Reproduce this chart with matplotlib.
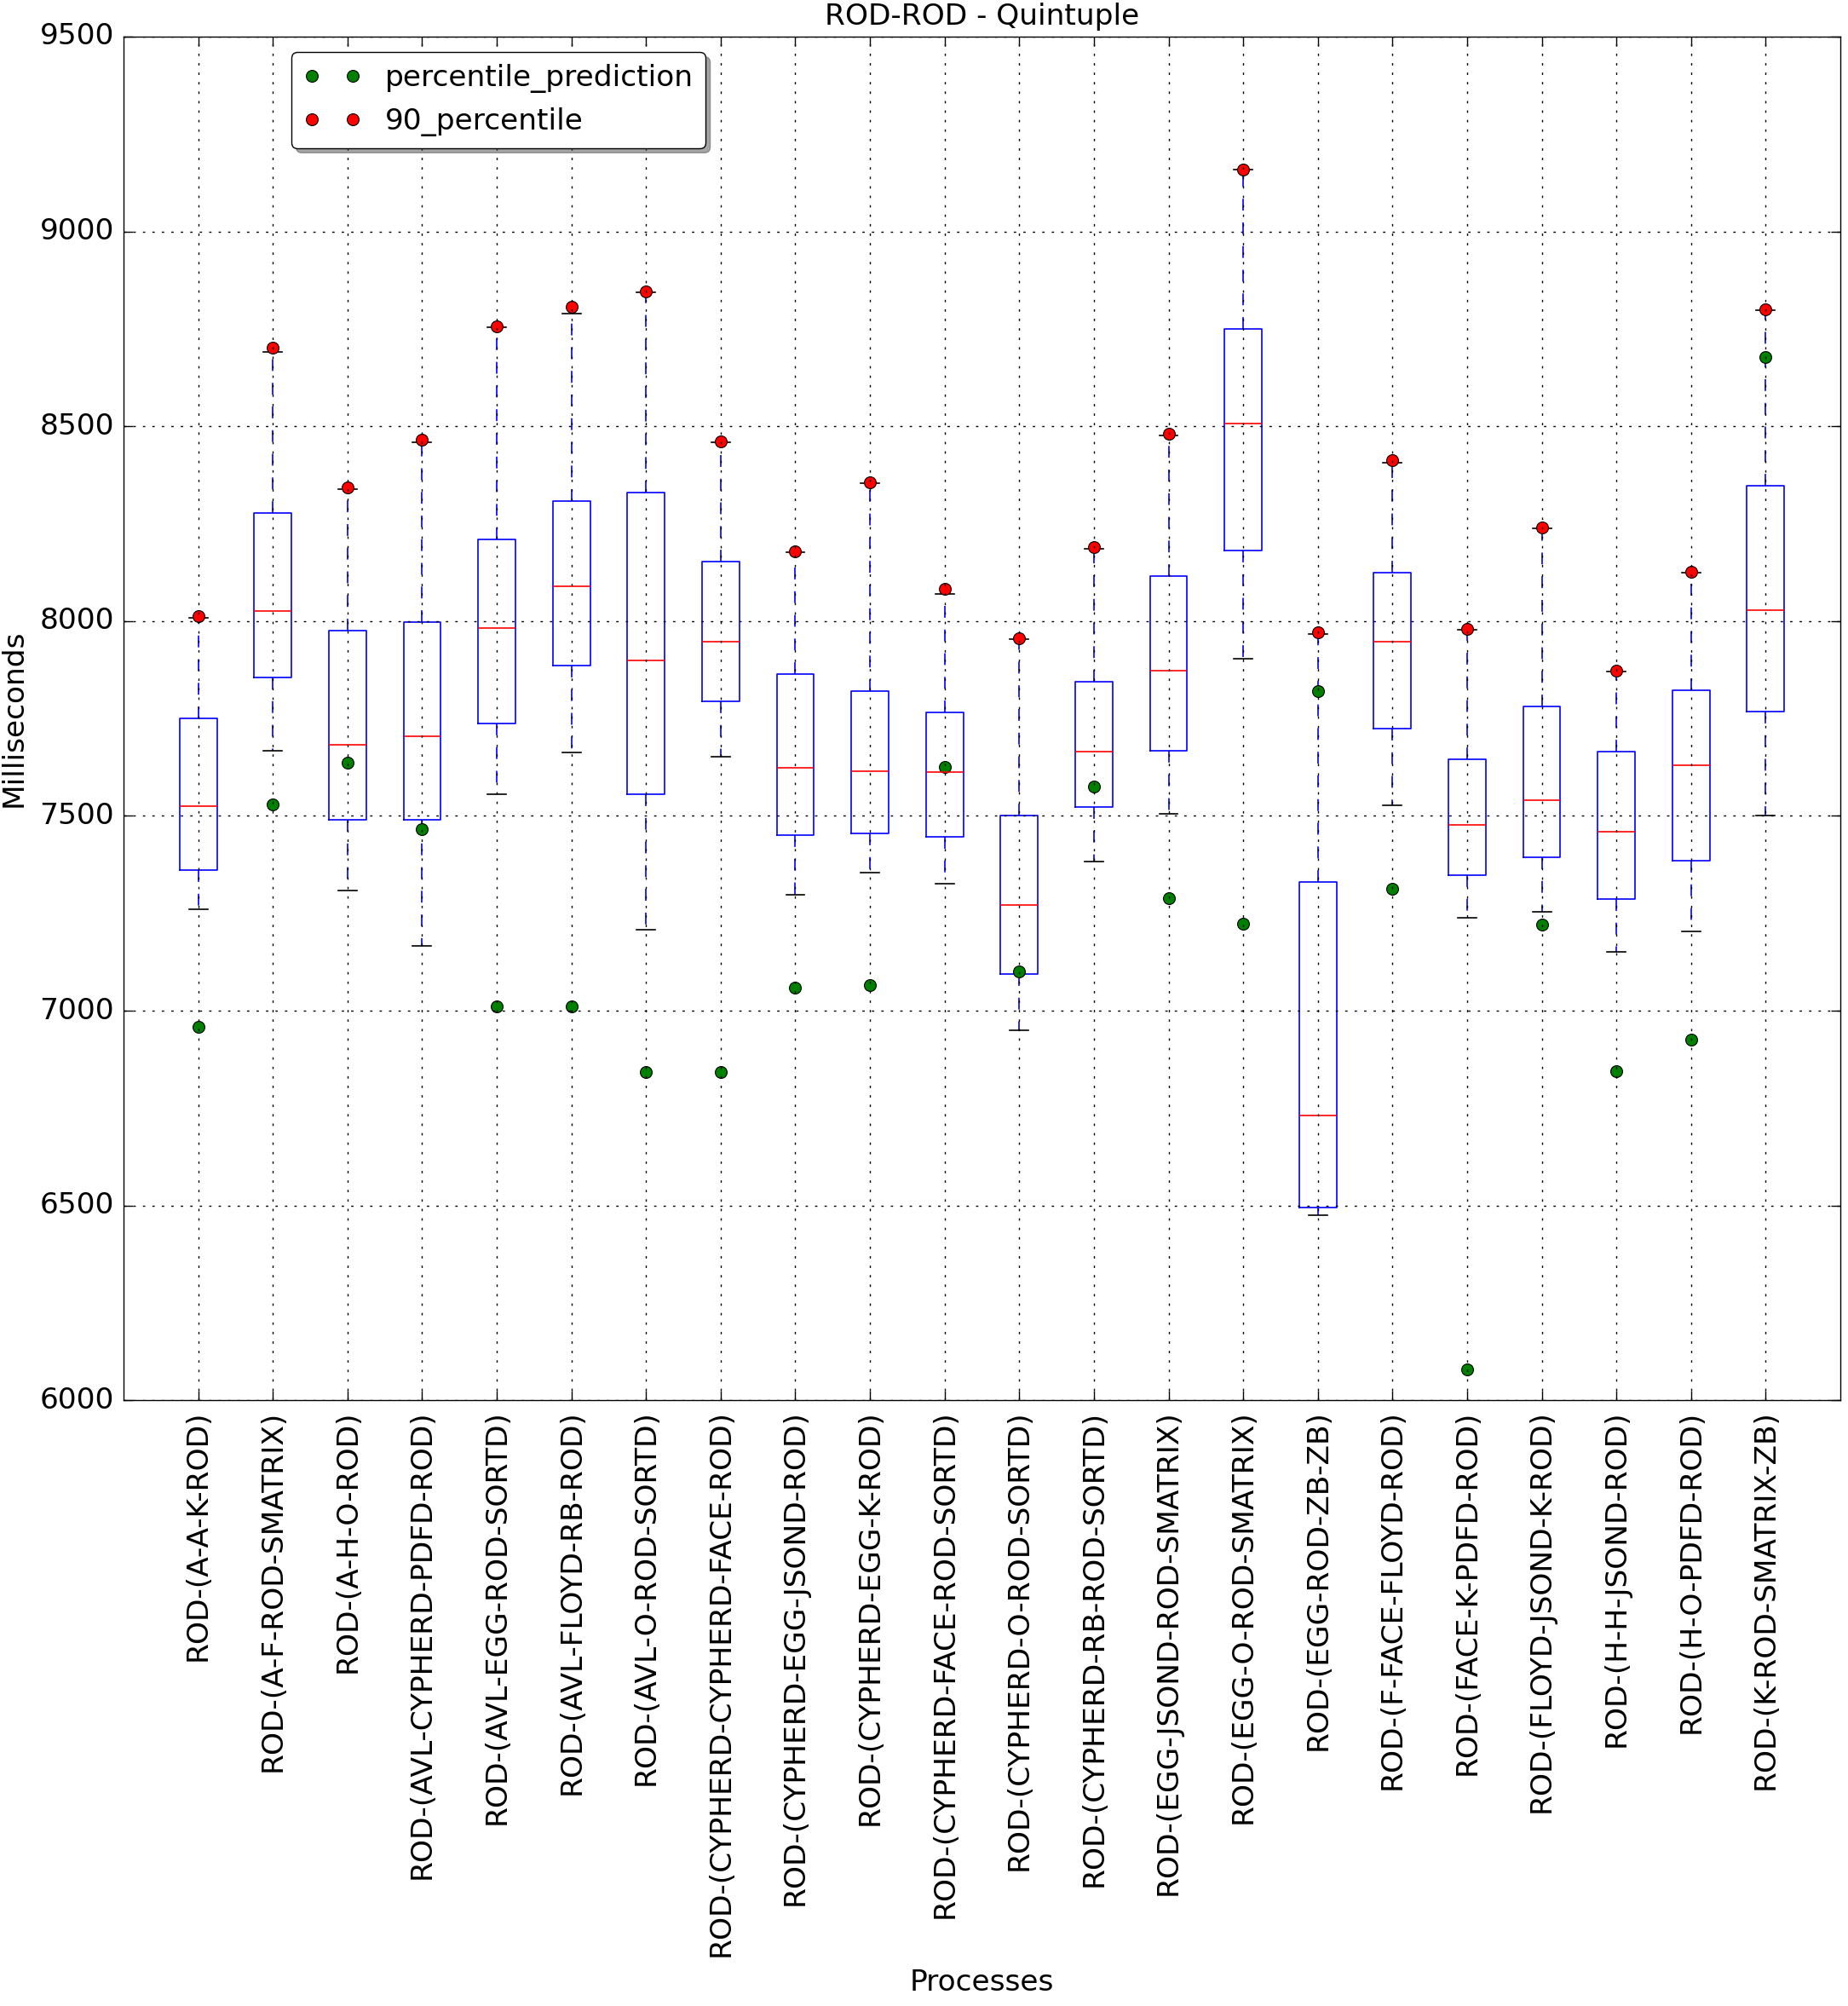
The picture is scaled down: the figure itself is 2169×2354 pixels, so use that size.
import matplotlib
matplotlib.use("Agg")
import matplotlib.pyplot as plt

plt.style.use("classic")
plt.rcParams["axes.linewidth"] = 0.5
plt.rcParams["patch.linewidth"] = 0.5

processes = [
    "ROD-(A-A-K-ROD)", "ROD-(A-F-ROD-SMATRIX)", "ROD-(A-H-O-ROD)",
    "ROD-(AVL-CYPHERD-PDFD-ROD)", "ROD-(AVL-EGG-ROD-SORTD)", "ROD-(AVL-FLOYD-RB-ROD)",
    "ROD-(AVL-O-ROD-SORTD)", "ROD-(CYPHERD-CYPHERD-FACE-ROD)", "ROD-(CYPHERD-EGG-JSOND-ROD)",
    "ROD-(CYPHERD-EGG-K-ROD)", "ROD-(CYPHERD-FACE-ROD-SORTD)", "ROD-(CYPHERD-O-ROD-SORTD)",
    "ROD-(CYPHERD-RB-ROD-SORTD)", "ROD-(EGG-JSOND-ROD-SMATRIX)", "ROD-(EGG-O-ROD-SMATRIX)",
    "ROD-(EGG-ROD-ZB-ZB)", "ROD-(F-FACE-FLOYD-ROD)", "ROD-(FACE-K-PDFD-ROD)",
    "ROD-(FLOYD-JSOND-K-ROD)", "ROD-(H-H-JSOND-ROD)", "ROD-(H-O-PDFD-ROD)",
    "ROD-(K-ROD-SMATRIX-ZB)",
]

whisker_low = [7260, 7667, 7309, 7166, 7556, 7662, 7209, 7652, 7298, 7355, 7325,
               6950, 7383, 7506, 7903, 6475, 7527, 7238, 7254, 7152, 7203, 7500]
q1 = [7361, 7855, 7490, 7490, 7738, 7885, 7555, 7794, 7450, 7456, 7446,
      7095, 7523, 7667, 8182, 6495, 7723, 7348, 7393, 7287, 7385, 7768]
median = [7526, 8026, 7682, 7705, 7983, 8090, 7898, 7948, 7623, 7614, 7613,
          7271, 7664, 7872, 8507, 6732, 7947, 7477, 7541, 7459, 7631, 8027]
q3 = [7751, 8278, 7976, 7997, 8209, 8309, 8331, 8152, 7864, 7820, 7765,
      7500, 7845, 8116, 8749, 7330, 8125, 7646, 7781, 7666, 7822, 8348]
whisker_high = [8008, 8690, 8339, 8460, 8755, 8790, 8843, 8460, 8176, 8353, 8070,
                7953, 8186, 8477, 9158, 7966, 8406, 7977, 8238, 7871, 8125, 8797]

percentile_prediction = [6958, 7530, 7636, 7465, 7010, 7010, 6842, 6842, 7060, 7066, 7626,
                         7100, 7576, 7289, 7224, 7820, 7313, 6080, 7221, 6844, 6926, 8678]
percentile_90 = [8012, 8701, 8342, 8466, 8757, 8806, 8845, 8462, 8179, 8356, 8082,
                 7957, 8191, 8481, 9158, 7971, 8414, 7979, 8240, 7873, 8127, 8801]

title = "ROD-ROD - Quintuple"
xlabel = "Processes"
ylabel = "Milliseconds"

FS = 12.4
LW = 0.6
fig = plt.figure(figsize=(2169 / 200, 2354 / 200), dpi=200)
fig.patch.set_facecolor("white")
ax = fig.add_axes([145 / 2169, 1 - 1643.3 / 2354, (2160 - 145) / 2169, (1643.3 - 43) / 2354])

positions = list(range(1, len(processes) + 1))
stats = []
for i in range(len(processes)):
    stats.append(dict(med=median[i], q1=q1[i], q3=q3[i],
                      whislo=whisker_low[i], whishi=whisker_high[i],
                      fliers=[], label=processes[i]))

ax.bxp(stats, positions=positions, widths=0.5,
       boxprops=dict(color="b", linewidth=LW),
       whiskerprops=dict(color="b", linestyle=(0, (5, 5)), linewidth=LW),
       capprops=dict(color="k", linewidth=LW),
       medianprops=dict(color="r", linewidth=LW),
       showfliers=False)

ax.plot(positions, percentile_prediction, "o", color="g", markersize=5,
        markeredgecolor="k", markeredgewidth=0.4, linestyle="none",
        label="percentile_prediction")
ax.plot(positions, percentile_90, "o", color="r", markersize=5,
        markeredgecolor="k", markeredgewidth=0.4, linestyle="none",
        label="90_percentile")

ax.set_xlim(0, len(processes) + 1)
ax.set_ylim(6000, 9500)
ax.set_xticks(positions)
ax.set_xticklabels(processes, rotation=90, fontsize=FS)
ax.tick_params(axis="y", labelsize=FS)
ax.grid(True, linewidth=0.5)
ax.set_title(title, fontsize=FS)
ax.set_xlabel(xlabel, fontsize=FS)
ax.set_ylabel(ylabel, fontsize=FS)

ax.legend(loc="upper left", bbox_to_anchor=(197 / 2015, 1 - 18 / 1600.3),
          borderaxespad=0, numpoints=2, fancybox=True, shadow=True,
          fontsize=FS)

fig.savefig("out.png", dpi=200)
